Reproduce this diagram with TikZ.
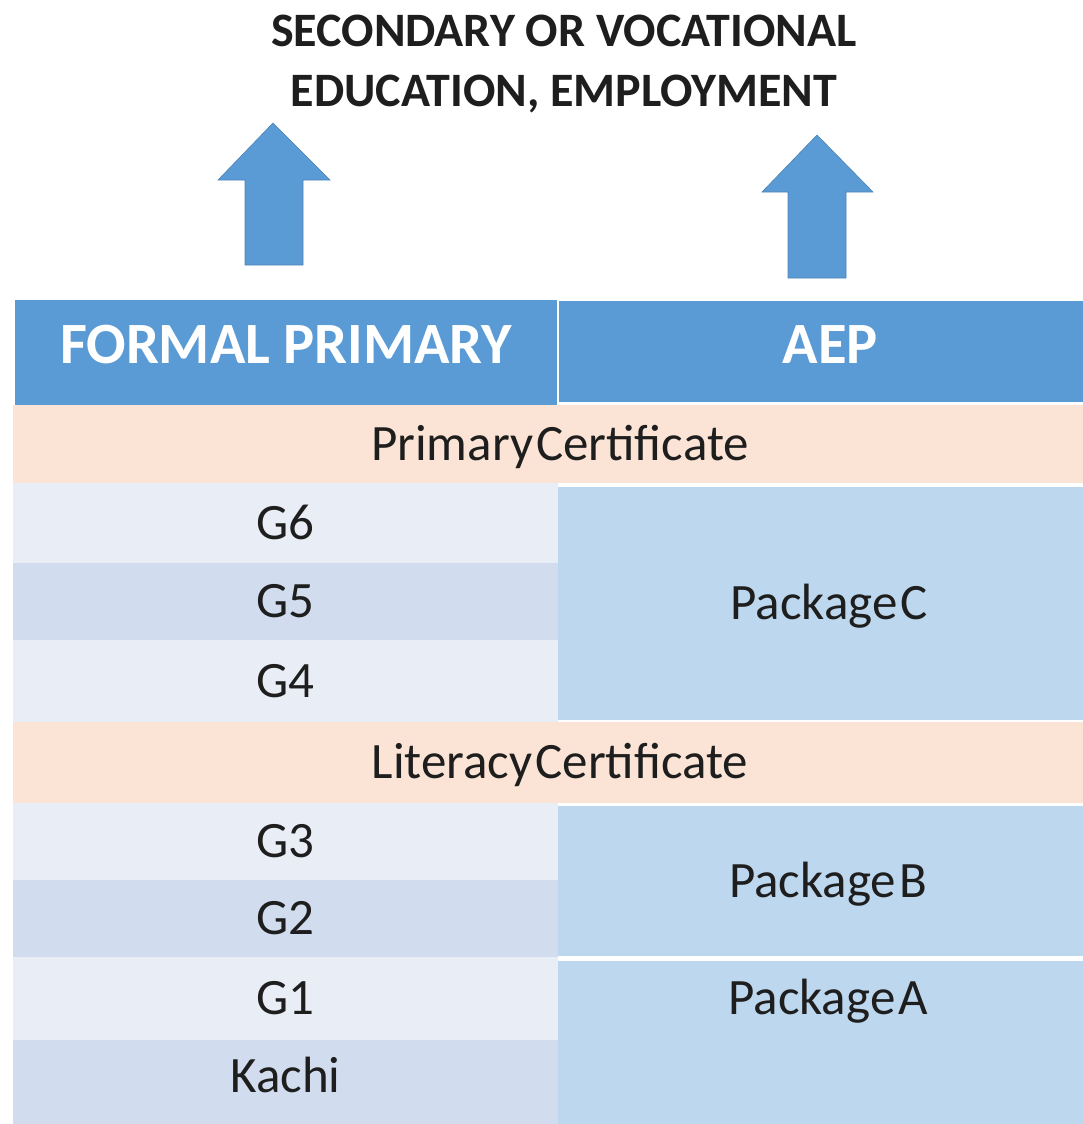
\documentclass[tikz,border=0pt]{standalone}
\usepackage{fontspec}
\setmainfont{Carlito}
\newfontfamily\tightfont{Carlito}[WordSpace=0.25]
\definecolor{hdr}{HTML}{5B9BD5}
\definecolor{peach}{HTML}{FBE4D6}
\definecolor{rowlight}{HTML}{E9EEF6}
\definecolor{rowdark}{HTML}{D1DDEE}
\definecolor{pkg}{HTML}{BDD7EE}
\definecolor{ink}{HTML}{1E1E1E}
\begin{document}
\begin{tikzpicture}[x=1pt,y=-1pt,
  cell/.style={draw=none,inner sep=0pt,outer sep=0pt,anchor=north west,align=center,
    font=\tightfont\fontsize{51}{60}\selectfont,text=ink,text height=32pt,text depth=0pt},
  hcell/.style={cell,fill=hdr,text=white,font=\fontsize{58.5}{68}\selectfont\bfseries,text height=37pt},
  titletext/.style={inner sep=0pt,text=ink,font=\fontsize{48}{58}\selectfont\bfseries,text height=31pt,text depth=0pt},
  bigarrow/.style={fill=hdr,draw=hdr!85!black,line width=0.6pt}
]
\useasboundingbox (0,0) rectangle (1082,1124);

% title
\node[titletext] (t1) at (564,31) {SECONDARY OR VOCATIONAL};
\node[titletext] (t2) at (564,91) {EDUCATION, EMPLOYMENT};

% arrows
\fill[bigarrow] (245,265) -- (245,180) -- (218,180) -- (273,123) -- (330,180) -- (303,180) -- (303,265) -- cycle;
\fill[bigarrow] (788,278) -- (788,192) -- (762,192) -- (817,135) -- (873,192) -- (846,192) -- (846,278) -- cycle;

% header
\node[hcell,minimum width=542pt,minimum height=105pt,text depth=15pt] (hl) at (15,300) {FORMAL PRIMARY};
\node[hcell,minimum width=543pt,minimum height=101pt,text depth=13pt] (hr) at (559,301) {AEP};

% certificate rows
\node[cell,fill=peach,minimum width=1094pt,minimum height=78pt] (pc) at (13,405) {Primary Certificate};
\node[cell,fill=peach,minimum width=1094pt,minimum height=81pt] (lc) at (13,722) {Literacy Certificate};

% grade column
\node[cell,fill=rowlight,minimum width=545pt,minimum height=80pt] (g6) at (13,483) {G6};
\node[cell,fill=rowdark,minimum width=545pt,minimum height=77pt] (g5) at (13,563) {G5};
\node[cell,fill=rowlight,minimum width=545pt,minimum height=82pt] (g4) at (13,640) {G4};
\node[cell,fill=rowlight,minimum width=545pt,minimum height=77pt] (g3) at (13,803) {G3};
\node[cell,fill=rowdark,minimum width=545pt,minimum height=77pt] (g2) at (13,880) {G2};
\node[cell,fill=rowlight,minimum width=545pt,minimum height=83pt] (g1) at (13,957) {G1};
\node[cell,fill=rowdark,minimum width=545pt,minimum height=84pt,text depth=12pt] (kachi) at (13,1040) {Kachi};

% AEP packages
\node[cell,fill=pkg,minimum width=542pt,minimum height=233pt] (pkc) at (558,487) {Package C};
\node[cell,fill=pkg,minimum width=540pt,minimum height=150pt] (pkb) at (558,806) {Package B};
\node[cell,fill=pkg,minimum width=540pt,minimum height=163pt,text depth=89pt] (pka) at (558,961) {Package A};
\end{tikzpicture}
\end{document}
